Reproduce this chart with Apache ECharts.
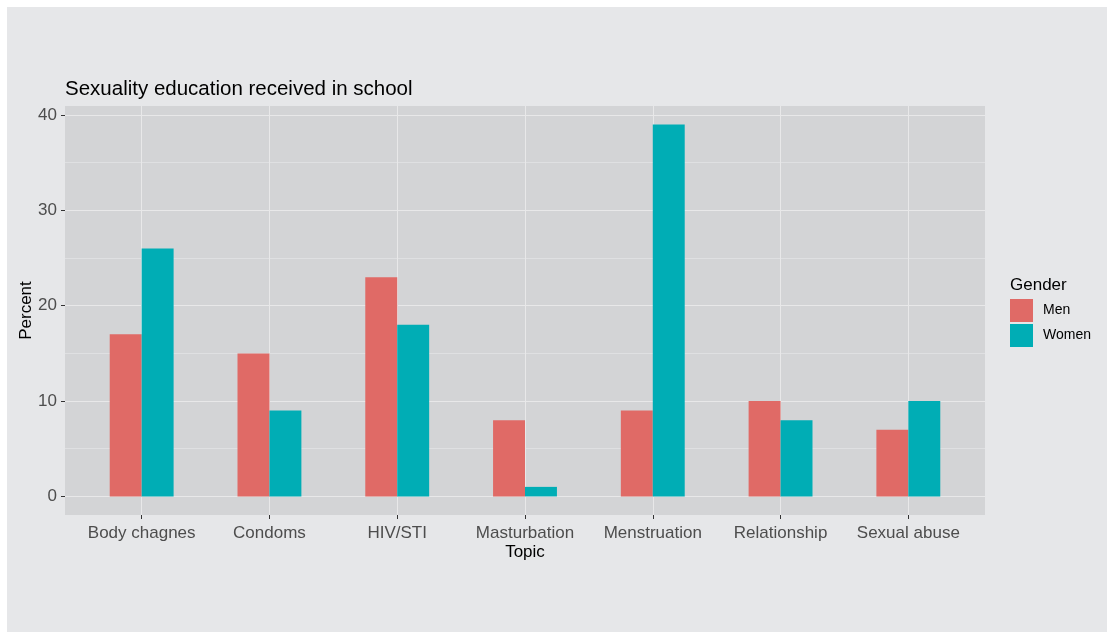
<!DOCTYPE html>
<html>
<head>
<meta charset="utf-8">
<script src="https://cdn.jsdelivr.net/npm/echarts@6/dist/echarts.min.js"></script>
<style>
html,body{margin:0;padding:0;background:#ffffff;width:1107px;height:632px;overflow:hidden;}
#chart{position:absolute;left:7px;top:7px;width:1100px;height:625px;}
</style>
</head>
<body>
<div id="chart"></div>
<script>
const categories = ['Body chagnes','Condoms','HIV/STI','Masturbation','Menstruation','Relationship','Sexual abuse'];
const men = [17, 15, 23, 8, 9, 10, 7];
const women = [26, 9, 18, 1, 39, 8, 10];
const yTicks = [0, 10, 20, 30, 40];
const yMinor = [5, 15, 25, 35];
const seriesNames = ['Men', 'Women'];

const catPos = categories.map((c, i) => i + 1);
const font = 'Liberation Sans, Arial, sans-serif';

const chart = echarts.init(document.getElementById('chart'));
chart.setOption({
  backgroundColor: '#e6e7e9',
  animation: false,
  textStyle: { fontFamily: font },
  title: [
    { text: 'Sexuality education received in school', left: 58, top: 72, padding: 0,
      textStyle: { fontSize: 20.5, fontWeight: 'normal', color: '#000', fontFamily: font } },
    { text: 'Gender', left: 1003, top: 270, padding: 0,
      textStyle: { fontSize: 17, fontWeight: 'normal', color: '#000', fontFamily: font } }
  ],
  legend: {
    left: 1003, top: 292, orient: 'vertical', padding: 0,
    icon: 'rect', itemWidth: 23, itemHeight: 23, itemGap: 2,
    data: seriesNames,
    textStyle: { fontSize: 14, color: '#000', fontFamily: font, padding: [0, 0, 0, 5] }
  },
  grid: { left: 58, top: 99, width: 920, height: 409, show: true,
          containLabel: false, outerBoundsMode: 'none',
          backgroundColor: '#d3d4d6', borderWidth: 0 },
  xAxis: {
    type: 'value', min: 0.4, max: 7.6,
    name: 'Topic', nameLocation: 'middle', nameGap: 29, nameMoveOverlap: false,
    nameTextStyle: { fontSize: 17, color: '#000', fontFamily: font },
    axisLine: { show: false, onZero: false },
    axisTick: { show: true, length: 4, customValues: catPos, lineStyle: { color: '#333' } },
    axisLabel: { customValues: catPos, fontSize: 17, color: '#4d4d4d', margin: 10,
                 formatter: v => categories[Math.round(v) - 1] || '' },
    splitLine: { show: true, lineStyle: { color: '#e8e8e9', width: 1 } }
  },
  yAxis: [{
    type: 'value', min: -1.95, max: 40.95,
    name: 'Percent', nameLocation: 'middle', nameGap: 30, nameRotate: 90, nameMoveOverlap: false,
    nameTextStyle: { fontSize: 17, color: '#000', fontFamily: font },
    axisLine: { show: false, onZero: false },
    axisTick: { show: true, length: 4, customValues: yTicks, lineStyle: { color: '#333' } },
    axisLabel: { customValues: yTicks, fontSize: 17, color: '#4d4d4d', margin: 8 },
    splitLine: { show: true, lineStyle: { color: '#e8e8e9', width: 1 } }
  }, {
    type: 'value', min: -1.95, max: 40.95, position: 'left',
    axisLine: { show: false, onZero: false },
    axisTick: { show: false, customValues: yMinor },
    axisLabel: { show: false, customValues: yMinor },
    splitLine: { show: true, lineStyle: { color: '#dfe0e2', width: 1 } }
  }],
  series: [
    { name: seriesNames[0], type: 'bar', xAxisIndex: 0, yAxisIndex: 0,
      data: men.map((v, i) => [catPos[i], v]),
      barWidth: '25%', barGap: '0%', itemStyle: { color: '#e06a66' } },
    { name: seriesNames[1], type: 'bar', xAxisIndex: 0, yAxisIndex: 0,
      data: women.map((v, i) => [catPos[i], v]),
      barWidth: '25%', barGap: '0%', itemStyle: { color: '#00adb5' } }
  ]
});
</script>
</body>
</html>
